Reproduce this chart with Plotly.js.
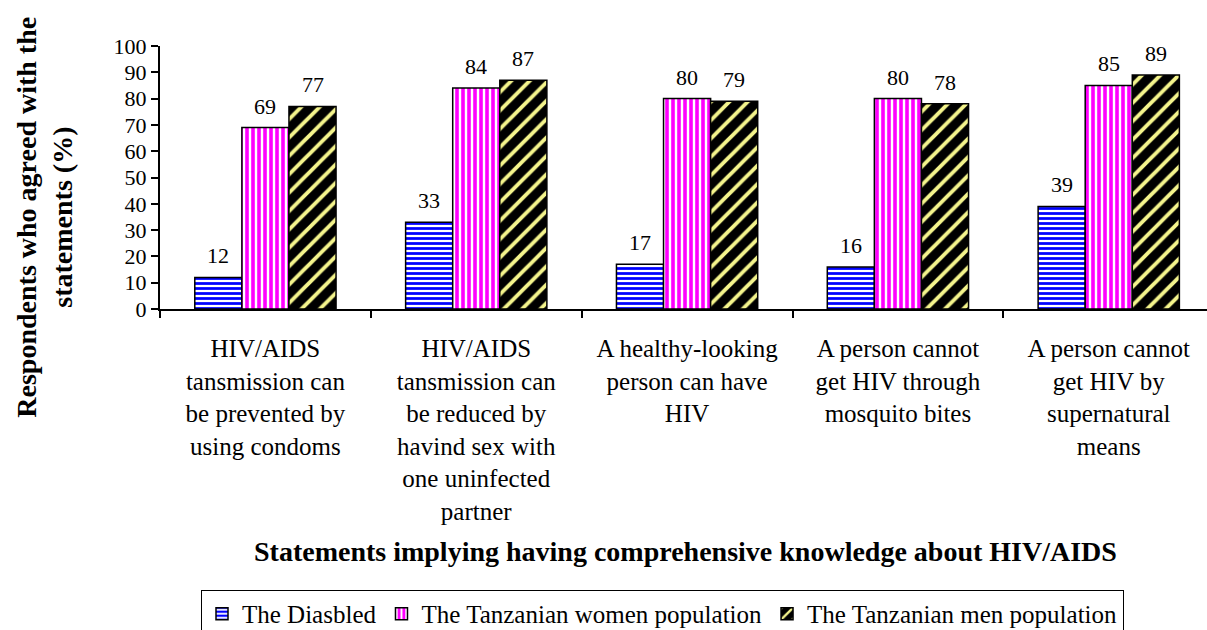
<!DOCTYPE html>
<html>
<head>
<meta charset="utf-8">
<script src="https://cdn.plot.ly/plotly-3.0.1.min.js"></script>
<style>html,body{margin:0;padding:0;background:#fff;}#chart{width:1207px;height:630px;}</style>
</head>
<body>
<div id="chart"></div>
<script>
const categories = [
  "HIV/AIDS<br>tansmission can<br>be prevented by<br>using condoms",
  "HIV/AIDS<br>tansmission can<br>be reduced by<br>havind sex with<br>one uninfected<br>partner",
  "A healthy-looking<br>person can have<br>HIV",
  "A person cannot<br>get HIV through<br>mosquito bites",
  "A person cannot<br>get HIV by<br>supernatural<br>means"
];
const seriesNames = ["The Diasbled", "The Tanzanian women population", "The Tanzanian men population"];
const disabled = [12, 33, 17, 16, 39];
const women = [69, 84, 80, 80, 85];
const men = [77, 87, 79, 78, 89];
const yTicks = [0, 10, 20, 30, 40, 50, 60, 70, 80, 90, 100];
const xTitle = "Statements implying having comprehensive knowledge about HIV/AIDS";
const yTitleLines = ["Respondents who agreed with the", "statements (%)"];

const FONT = "Liberation Serif, Times New Roman, serif";
const seriesValues = [disabled, women, men];
const patterns = [
  {shape: "-", fgcolor: "#0000ff", bgcolor: "#ffffff", size: 5, solidity: 0.55},
  {shape: "|", fgcolor: "#ff00ff", bgcolor: "#ffffff", size: 6, solidity: 0.6},
  {shape: "/", fgcolor: "#f4f48c", bgcolor: "#000000", size: 13, solidity: 0.3}
];
const bargap = 0.33;
const barW = (1 - bargap) / 3;
const AXIS_Y = 309.5, PLOT_H = 263.5, PLOT_L = 160, PLOT_W = 1047;

const traces = seriesValues.map((vals, s) => ({
  type: "bar",
  name: seriesNames[s],
  x: categories,
  y: vals,
  marker: {color: patterns[s].fgcolor, pattern: Object.assign({fillmode: "replace"}, patterns[s]),
           line: {color: "#000", width: 1.5}},
  hoverinfo: "y+name"
}));

const annotations = [];
seriesValues.forEach((vals, s) => {
  vals.forEach((v, i) => {
    annotations.push({
      x: i + (s - 1) * barW, y: v, xref: "x", yref: "y",
      text: String(v), showarrow: false, yanchor: "bottom", yshift: 7,
      font: {family: FONT, size: 22, color: "#000"}
    });
  });
});
annotations.push({
  x: (685 - PLOT_L) / PLOT_W, y: (AXIS_Y - 552) / PLOT_H, xref: "paper", yref: "paper",
  text: "<b>" + xTitle + "</b>",
  showarrow: false, xanchor: "center", yanchor: "middle",
  font: {family: FONT, size: 28, color: "#000"}
});
[27, 63].forEach((px, k) => {
  annotations.push({
    x: (px - PLOT_L) / PLOT_W, y: (AXIS_Y - 218) / PLOT_H, xref: "paper", yref: "paper",
    text: "<b>" + yTitleLines[k] + "</b>", textangle: -90, showarrow: false,
    xanchor: "center", yanchor: "middle",
    font: {family: FONT, size: 28, color: "#000"}
  });
});

const layout = {
  width: 1207, height: 630,
  margin: {l: 160, r: 0, t: 46, b: 320.5, pad: 0, autoexpand: false},
  paper_bgcolor: "#fff", plot_bgcolor: "#fff",
  barmode: "group", bargap: bargap, bargroupgap: 0,
  font: {family: FONT, color: "#000"},
  showlegend: true,
  legend: {
    orientation: "h", x: (201 - PLOT_L) / PLOT_W, y: (AXIS_Y - 591) / PLOT_H,
    xanchor: "left", yanchor: "top",
    bordercolor: "#000", borderwidth: 1, bgcolor: "#fff",
    font: {family: FONT, size: 25, color: "#000"},
    itemwidth: 30
  },
  xaxis: {
    type: "category", range: [-0.5, 4.466],
    showline: true, linecolor: "#000", linewidth: 2,
    ticks: "outside", tickson: "boundaries", ticklen: 7, tickwidth: 2, tickcolor: "#000",
    tickfont: {family: FONT, size: 25, color: "#000"},
    ticklabelstandoff: 16,
    showgrid: false, zeroline: false, fixedrange: true
  },
  yaxis: {
    range: [0, 100], tickmode: "array", tickvals: yTicks, ticktext: yTicks.map(String),
    showline: true, linecolor: "#000", linewidth: 2,
    ticks: "outside", ticklen: 7, tickwidth: 2, tickcolor: "#000",
    tickfont: {family: FONT, size: 22, color: "#000"},
    showgrid: false, zeroline: false, fixedrange: true
  },
  annotations: annotations
};

Plotly.newPlot("chart", traces, layout, {displayModeBar: false, staticPlot: true});
</script>
</body>
</html>
